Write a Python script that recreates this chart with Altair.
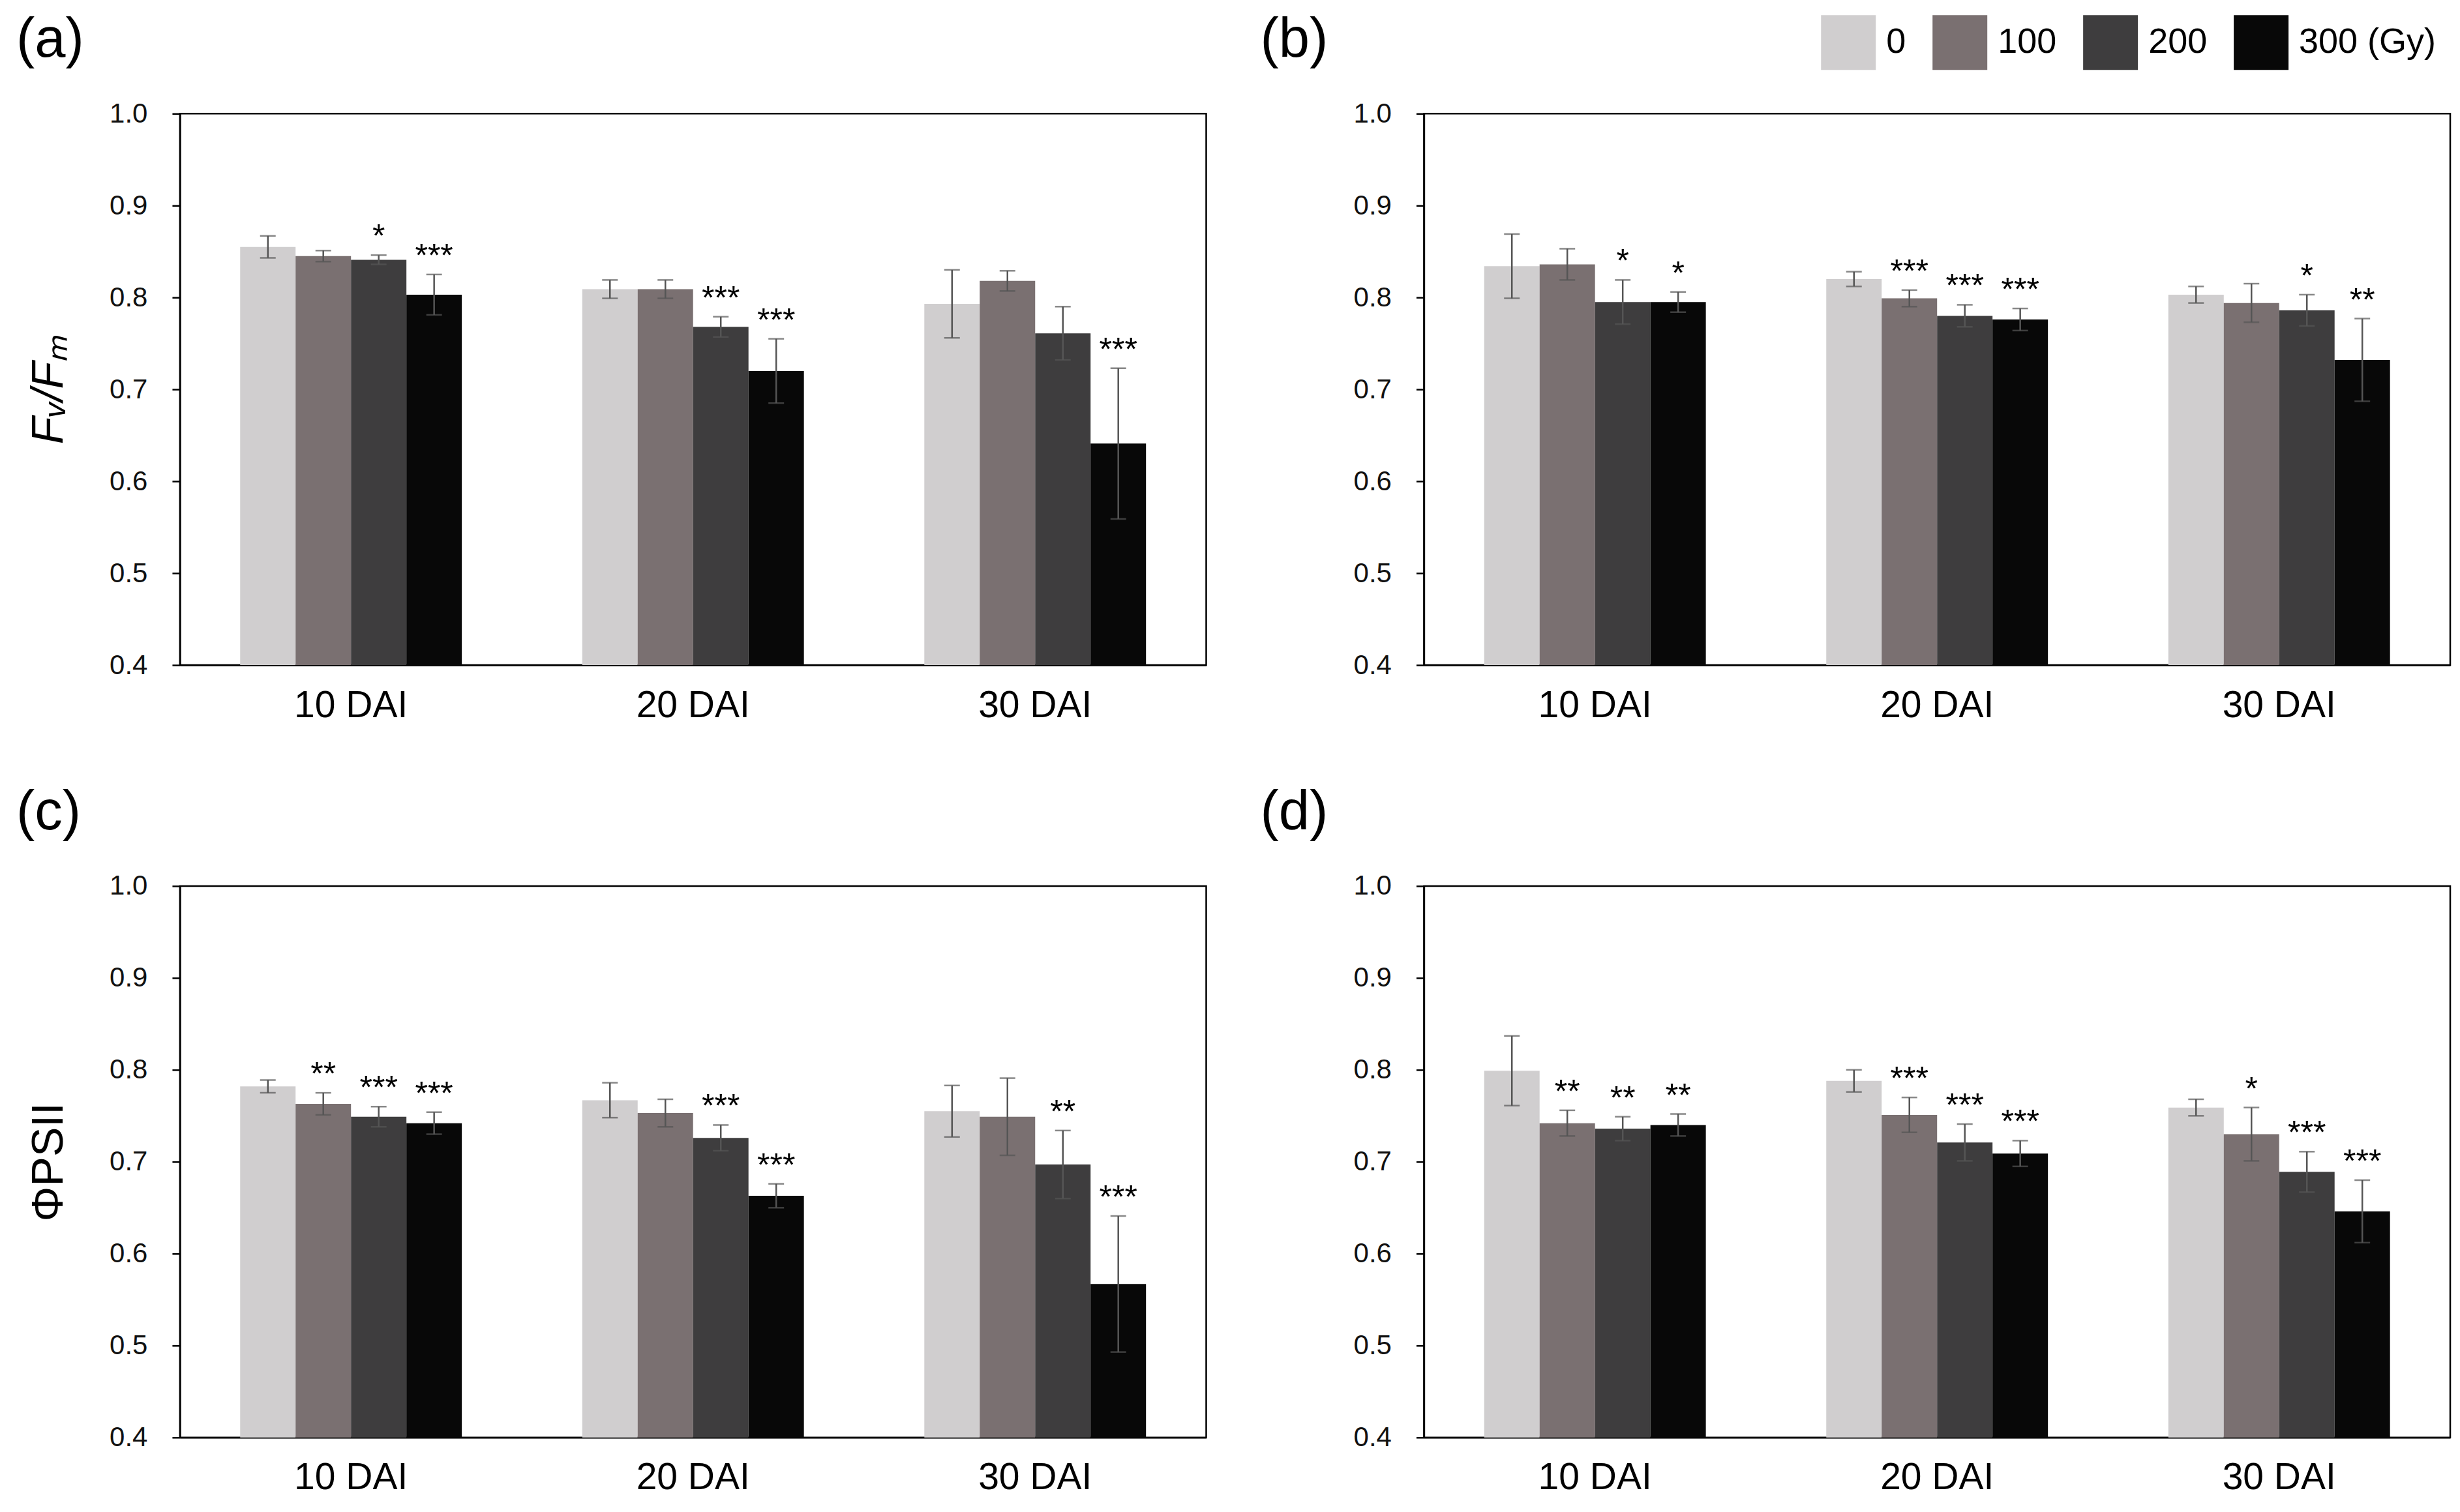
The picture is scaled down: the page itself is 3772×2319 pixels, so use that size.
import altair as alt
import pandas as pd

DAI = ["10 DAI", "20 DAI", "30 DAI"]
DOSES = ["0", "100", "200", "300 (Gy)"]
COLORS = ["#d0cecf", "#7a7071", "#3e3d3e", "#080808"]

# (a) Fv/Fm, first trait
a_mean = [0.855, 0.845, 0.841, 0.803, 0.809, 0.809, 0.768, 0.720, 0.793, 0.818, 0.761, 0.641]
a_err = [0.012, 0.006, 0.005, 0.022, 0.010, 0.010, 0.011, 0.035, 0.037, 0.011, 0.029, 0.082]
a_sig = ["", "", "*", "***", "", "", "***", "***", "", "", "", "***"]
# (b) Fv/Fm, second trait
b_mean = [0.834, 0.836, 0.795, 0.795, 0.820, 0.799, 0.780, 0.776, 0.803, 0.794, 0.786, 0.732]
b_err = [0.035, 0.017, 0.024, 0.011, 0.008, 0.009, 0.012, 0.012, 0.009, 0.021, 0.017, 0.045]
b_sig = ["", "", "*", "*", "", "***", "***", "***", "", "", "*", "**"]
# (c) PhiPSII
c_mean = [0.782, 0.763, 0.749, 0.742, 0.767, 0.753, 0.726, 0.663, 0.755, 0.749, 0.697, 0.567]
c_err = [0.007, 0.012, 0.011, 0.012, 0.019, 0.015, 0.014, 0.013, 0.028, 0.042, 0.037, 0.074]
c_sig = ["", "**", "***", "***", "", "", "***", "***", "", "", "**", "***"]
# (d) PhiPSII
d_mean = [0.799, 0.742, 0.736, 0.740, 0.788, 0.751, 0.721, 0.709, 0.759, 0.730, 0.689, 0.646]
d_err = [0.038, 0.014, 0.013, 0.012, 0.012, 0.019, 0.020, 0.014, 0.009, 0.029, 0.022, 0.034]
d_sig = ["", "**", "**", "**", "", "***", "***", "***", "", "*", "***", "***"]

Y_TICKS = [0.4, 0.5, 0.6, 0.7, 0.8, 0.9, 1.0]
FONT = "Liberation Sans"


def make_df(mean, err, sig):
    rows = []
    k = 0
    for d in DAI:
        for g in DOSES:
            rows.append({"dai": d, "dose": g, "mean": mean[k],
                         "lo": mean[k] - err[k], "hi": mean[k] + err[k], "sig": sig[k]})
            k += 1
    return pd.DataFrame(rows)


def panel(mean, err, sig, label, ytitle=None, italic=False):
    df = make_df(mean, err, sig)
    yaxis_kwargs = dict(values=Y_TICKS, format=".1f", labelFontSize=42, labelPadding=38,
                        tickSize=12, tickWidth=2.5, tickColor="black", domainColor="black",
                        domainWidth=2.5, labelColor="#111", grid=False)
    if ytitle:
        yaxis_kwargs.update(title=ytitle, titleFontSize=68, titleFontWeight="normal",
                            titlePadding=58, titleColor="black",
                            titleFontStyle="italic" if italic else "normal")
    else:
        yaxis_kwargs.update(title=None)
    base = alt.Chart(df).encode(
        x=alt.X("dai:N", sort=DAI,
                scale=alt.Scale(paddingInner=0.352, paddingOuter=0.176),
                axis=alt.Axis(title=None, labelAngle=0, ticks=False, labelFontSize=57,
                              labelPadding=34, domainColor="black", domainWidth=2.5,
                              labelColor="black")),
        xOffset=alt.XOffset("dose:N", sort=DOSES,
                            scale=alt.Scale(paddingInner=0, paddingOuter=0)),
    )
    bars = base.mark_bar().encode(
        y=alt.Y("mean:Q", scale=alt.Scale(domain=[0.4, 1.0], zero=False, nice=False),
                axis=alt.Axis(**yaxis_kwargs)),
        y2=alt.datum(0.4),
        color=alt.Color("dose:N", sort=DOSES,
                        scale=alt.Scale(domain=DOSES, range=COLORS),
                        legend=alt.Legend(title=None, orient="none", legendX=2517, legendY=-151,
                                          direction="horizontal", columns=4,
                                          symbolType="square", symbolSize=7056,
                                          symbolStrokeWidth=0, labelFontSize=54,
                                          labelOffset=16, columnPadding=40,
                                          labelLimit=0, labelColor="black")),
    )
    rules = base.mark_rule(color="#555555", strokeWidth=2.5).encode(
        y="lo:Q", y2="hi:Q")
    cap_hi = base.mark_tick(color="#555555", size=24, thickness=2.5).encode(y="hi:Q")
    cap_lo = base.mark_tick(color="#555555", size=24, thickness=2.5).encode(y="lo:Q")
    stars = base.mark_text(baseline="alphabetic", dy=-12, fontSize=50, color="black").encode(
        y="hi:Q", text="sig:N")
    return alt.layer(bars, rules, cap_hi, cap_lo, stars).properties(
        width=1574, height=846,
        title=alt.TitleParams(label, anchor="start", frame="group", fontSize=85,
                              fontWeight="normal", dx=-251, offset=48, color="black"))


pa = panel(a_mean, a_err, a_sig, "(a)", "Fᵥ/Fₘ", italic=True)
pb = panel(b_mean, b_err, b_sig, "(b)")
pc = panel(c_mean, c_err, c_sig, "(c)", "ΦPSII")
pd_ = panel(d_mean, d_err, d_sig, "(d)")

chart = alt.concat(pa, pb, pc, pd_, columns=2, spacing={"row": 339, "column": 334},
                   bounds="flush", align="all").properties(
    padding={"left": 15, "top": 9, "right": 5, "bottom": 5}
).configure(font=FONT).configure_view(stroke="black", strokeWidth=2.5)

chart.save("out.html", embed_options={"renderer": "svg", "actions": False})
